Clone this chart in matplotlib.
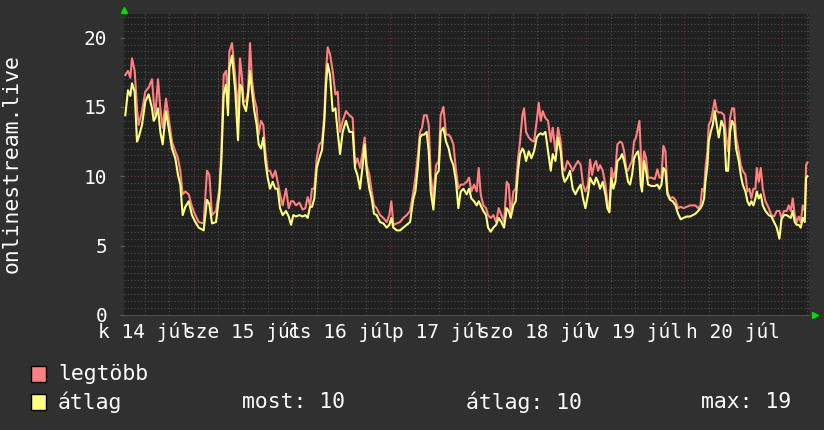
import numpy as np
import matplotlib.pyplot as plt
from matplotlib.patches import Rectangle
from matplotlib.ticker import MultipleLocator

plt.rcParams['font.family'] = ['DejaVu Sans Mono', 'DejaVu Sans']

# sample times, hours since 14 Jul 00:00
hours = [
    7.18, 7.84, 8.41, 8.82, 9.47, 10.04, 10.45, 11.27, 12.08, 12.90,
    13.72, 14.12, 14.53, 15.19, 15.76, 16.33, 17.14, 17.80, 18.61, 19.43,
    20.08, 20.65, 21.23, 21.88, 22.70, 23.51, 24.33, 25.15, 26.37, 27.19,
    27.76, 28.41, 29.39, 30.21, 30.70, 31.27, 31.84, 32.33, 32.66, 33.31,
    34.12,
    34.78, 35.27, 35.76, 36.09, 36.74, 37.23, 37.72, 38.21, 38.78, 39.35,
    39.84, 40.41, 40.98, 41.47, 42.05, 42.62, 43.27, 43.92, 44.49, 45.07,
    45.72, 46.53, 47.19, 47.76, 48.33, 48.98, 49.80, 50.62, 51.27, 51.84,
    52.41, 52.90, 53.47, 54.05, 54.70, 55.35, 55.92, 56.33, 56.74, 57.31,
    57.96, 58.62, 59.19, 59.76, 60.41, 61.23, 62.05,
    62.86, 63.43, 64.01, 64.66, 65.31, 65.80, 66.29, 66.94, 67.52, 68.09,
    68.74, 69.56, 70.37, 71.19, 71.84, 72.33, 72.82, 73.64, 74.45, 75.27,
    76.09, 76.90, 77.72, 78.21, 78.86, 79.35, 79.84, 80.33, 80.98, 81.48,
    81.97, 82.62, 83.27, 83.93, 84.41, 85.07, 85.72, 86.37, 86.86, 87.52,
    88.17, 88.74, 89.31, 89.97,
    90.78, 91.35, 91.93, 92.58, 93.23, 93.72, 94.21, 94.86, 95.52, 96.01,
    96.66, 97.31, 97.97, 98.62, 99.27, 99.93, 100.58, 101.07, 101.56, 102.21,
    102.78, 103.35, 103.84, 104.42, 104.82, 105.31, 105.97, 106.62, 107.27, 107.93,
    108.42, 108.91, 109.40, 110.05, 110.70, 111.36, 111.84, 112.50, 113.15, 113.80,
    114.29, 114.78, 115.44, 116.09, 116.74, 117.40, 118.05,
    118.70, 119.27, 119.85, 120.50, 120.99, 121.48, 121.97, 122.46, 122.95, 123.44,
    124.09, 124.74, 125.23, 125.72, 126.21, 126.70, 127.19, 127.68, 128.34, 128.83,
    129.32, 129.81, 130.30, 130.78, 131.27, 131.76, 132.25, 132.74, 133.07, 133.40,
    133.72, 134.21, 134.70, 135.19, 136.01, 136.83, 137.48, 137.97, 138.46, 138.95,
    139.44, 139.93, 140.58, 141.23, 141.89, 142.54, 143.19, 143.85, 144.66, 145.48,
    146.79, 147.44, 148.01, 148.42, 148.91, 149.24, 149.73, 150.05, 150.54, 151.03,
    151.52, 152.01, 152.50, 153.15, 153.81, 154.30, 154.79, 155.28, 155.77, 156.26,
    156.75, 157.40, 157.89, 158.38, 159.03, 159.52, 160.01, 160.50, 160.99, 161.48,
    161.81, 162.30, 162.79, 163.28, 163.93, 164.75, 165.40, 166.05, 166.70, 167.36,
    167.85, 168.50, 169.15, 169.64, 170.13, 170.62, 171.11, 171.60, 172.09, 172.58,
    173.07, 173.56, 173.89, 174.22,
]

# legtöbb (max)
legtobb = [
    17.3, 17.6, 17.1, 18.5, 17.6, 14.9, 13.7, 14.7, 16.1, 16.4,
    17.0, 15.4, 14.4, 17.0, 14.9, 13.5, 15.6, 14.2, 12.5, 11.8,
    11.3, 10.4, 8.7, 8.9, 8.7, 7.8, 7.2, 6.7, 6.6, 10.4,
    10.1, 7.2, 7.5, 9.1, 11.8, 17.3, 17.6, 15.6, 19.0, 19.6,
    17.1,
    14.5, 18.5, 17.1, 15.4, 15.4, 16.1, 19.6, 16.9, 15.6, 14.9,
    13.0, 14.0, 13.7, 11.8, 10.4, 10.4, 9.9, 10.4, 9.6, 8.7,
    7.9, 9.1, 7.7, 8.2, 8.2, 7.9, 8.1, 7.6, 7.7, 8.5,
    7.9, 9.1, 9.1, 11.3, 12.3, 12.5, 14.4, 17.6, 19.3, 18.8,
    17.6, 15.9, 16.1, 13.2, 14.0, 14.7, 14.4,
    14.2, 10.8, 11.3, 10.6, 11.8, 12.8, 10.8, 10.1, 8.9, 7.9,
    7.7, 7.2, 7.0, 6.7, 7.2, 8.2, 6.5, 6.6, 6.7, 7.0,
    7.2, 7.5, 8.9, 9.9, 11.6, 13.2, 13.5, 14.4, 14.4, 13.7,
    10.1, 8.4, 10.8, 11.1, 14.4, 15.0, 13.0, 13.0, 12.8, 12.3,
    10.4, 9.1, 9.4, 9.4,
    9.6, 9.9, 8.9, 9.4, 8.9, 10.6, 8.7, 7.9, 7.7, 7.2,
    7.0, 7.2, 6.7, 7.7, 7.2, 6.7, 9.6, 9.4, 7.2, 8.9,
    9.1, 11.3, 12.5, 14.4, 14.9, 13.2, 12.8, 12.6, 12.5, 14.0,
    15.3, 14.0, 14.7, 14.2, 14.0, 12.5, 13.5, 11.8, 13.5, 12.5,
    10.6, 10.4, 11.1, 10.8, 10.4, 10.8, 11.1,
    10.8, 9.4, 8.9, 9.4, 11.2, 10.1, 10.8, 11.1, 10.4, 10.8,
    10.4, 9.4, 8.2, 7.5, 10.6, 9.9, 10.4, 12.3, 12.5, 12.4,
    11.8, 10.6, 10.4, 10.8, 11.1, 12.5, 12.8, 13.5, 14.0, 11.8,
    9.4, 11.8, 11.3, 9.9, 9.9, 9.8, 10.5, 9.9, 9.9, 12.2,
    11.8, 8.9, 8.4, 8.5, 8.3, 7.7, 7.8, 7.7, 7.8, 7.9,
    7.9, 7.7, 7.9, 9.1, 8.9, 10.6, 11.8, 13.7, 14.0, 14.7,
    15.5, 14.7, 14.6, 14.6, 14.4, 12.8, 11.8, 14.2, 14.9, 14.9,
    12.8, 11.8, 10.8, 10.4, 10.1, 8.9, 9.1, 8.4, 9.1, 9.1,
    10.6, 9.6, 10.6, 9.1, 8.2, 7.7, 7.2, 7.1, 7.5, 7.5,
    7.0, 7.5, 7.5, 7.9, 7.5, 8.4, 7.2, 6.7, 7.1, 6.7,
    7.9, 7.5, 10.8, 11.0,
]

# átlag (average)
atlag = [
    14.4, 16.2, 15.8, 16.7, 16.1, 12.5, 12.8, 13.7, 15.4, 15.9,
    14.9, 14.0, 14.2, 14.9, 13.2, 12.3, 14.7, 13.5, 12.0, 11.3,
    10.1, 9.4, 7.2, 7.8, 8.2, 7.2, 6.7, 6.3, 6.1, 8.3,
    8.0, 6.6, 6.7, 8.7, 11.1, 15.9, 16.6, 14.4, 17.8, 18.7,
    16.1,
    12.6, 16.6, 16.4, 15.2, 14.7, 15.8, 17.6, 16.1, 14.7, 13.7,
    12.3, 12.0, 12.8, 11.1, 9.9, 9.1, 9.6, 9.1, 9.1, 7.7,
    7.2, 7.5, 7.1, 6.5, 7.2, 7.1, 7.2, 7.1, 7.2, 7.0,
    7.8, 7.8, 8.4, 10.6, 11.3, 11.9, 14.0, 16.6, 18.1, 17.3,
    14.7, 14.9, 13.2, 11.6, 13.2, 14.0, 13.2,
    13.2, 10.6, 10.1, 9.1, 10.8, 12.3, 10.4, 9.1, 8.4, 7.3,
    7.2, 6.7, 6.6, 6.3, 6.5, 7.0, 6.3, 6.1, 6.1, 6.3,
    6.5, 6.7, 8.4, 8.9, 10.8, 12.8, 13.0, 13.0, 13.2, 11.8,
    8.9, 7.6, 10.1, 10.4, 13.2, 13.5, 12.5, 12.0, 11.3, 10.8,
    9.6, 7.7, 8.9, 9.1,
    8.7, 9.1, 8.4, 8.2, 7.9, 8.2, 7.9, 7.5, 7.2, 6.3,
    6.0, 6.3, 6.5, 7.0, 6.7, 6.3, 7.7, 7.5, 7.0, 7.9,
    8.2, 10.4, 11.6, 12.0, 11.8, 11.1, 11.8, 11.3, 11.8, 12.8,
    13.0, 13.1, 13.0, 13.2, 11.8, 10.4, 11.6, 11.1, 12.8, 11.8,
    10.1, 9.6, 9.9, 10.4, 9.1, 8.7, 9.1,
    9.4, 8.4, 7.7, 8.7, 9.9, 9.6, 9.4, 9.9, 9.6, 9.1,
    9.6, 8.7, 7.7, 7.4, 9.9, 9.1, 9.6, 11.1, 11.3, 11.6,
    11.1, 10.4, 9.6, 9.4, 10.1, 11.3, 11.6, 11.8, 11.1, 9.4,
    8.9, 11.1, 10.4, 9.4, 9.3, 9.3, 9.4, 9.1, 9.4, 10.6,
    10.4, 8.7, 8.3, 8.2, 7.9, 7.3, 6.9, 7.0, 7.1, 7.1,
    7.3, 7.5, 7.7, 7.9, 8.4, 9.6, 10.8, 12.5, 13.2, 13.7,
    14.7, 13.7, 12.8, 14.0, 13.5, 10.4, 10.4, 13.2, 14.0, 13.7,
    12.0, 11.1, 10.1, 9.4, 8.9, 8.2, 7.9, 8.2, 7.9, 8.4,
    8.9, 8.4, 8.7, 7.9, 7.5, 7.2, 7.1, 6.7, 6.3, 5.5,
    6.9, 7.2, 7.2, 7.1, 7.0, 7.5, 6.7, 6.5, 6.5, 6.3,
    7.0, 6.7, 9.9, 10.0,
]

day_labels = ['k 14 júl', 'sze 15 júl', 'cs 16 júl', 'p 17 júl',
              'szo 18 júl', 'v 19 júl', 'h 20 júl']
stats = ['most: 10', 'átlag: 10', 'max: 19']

red = '#ff8080'
yellow = '#ffff80'
W, H = 824, 430
axis_fs = 14
legend_fs = 15.4

fig = plt.figure(figsize=(W / 100, H / 100), dpi=100, facecolor='#303030')
ax = fig.add_axes([124 / W, 115 / H, 685 / W, 301 / H], facecolor='#202020')

ax.plot(hours, legtobb, color=red, linewidth=1.5, zorder=3)
ax.plot(hours, atlag, color=yellow, linewidth=1.5, zorder=4)

ax.set_xlim(6.86, 174.6)
ax.set_ylim(0, 21.7)

# grid like rrdtool: minor every 6h / 0.5, major every day / 5
ax.xaxis.set_major_locator(MultipleLocator(24))
ax.xaxis.set_minor_locator(MultipleLocator(6))
ax.yaxis.set_major_locator(MultipleLocator(5))
ax.yaxis.set_minor_locator(MultipleLocator(0.5))
ax.grid(which='minor', color='#505050', linestyle=(0, (1, 2)), linewidth=0.8)
ax.grid(which='major', color='#773535', linestyle=(0, (1, 2)), linewidth=0.8)
ax.set_axisbelow(True)

ax.set_xticklabels([])
ax.tick_params(axis='x', which='both', length=0)
ax.tick_params(axis='y', which='major', length=3, color='#606060', pad=9,
               labelcolor='white', labelsize=axis_fs)
ax.tick_params(axis='y', which='minor', length=0)
for s in ax.spines.values():
    s.set_visible(False)
ax.spines['bottom'].set_visible(True)
ax.spines['bottom'].set_color('#505050')

for i, lab in enumerate(day_labels):
    ax.text(12 + 24 * i, -0.055, lab, transform=ax.get_xaxis_transform(),
            ha='center', va='center', color='white', fontsize=axis_fs)

# green arrows at the axis ends
ax.plot([0], [1.013], marker='^', color='#00dd00', markersize=4,
        transform=ax.transAxes, clip_on=False)
ax.plot([1.009], [0], marker='>', color='#00dd00', markersize=4,
        transform=ax.transAxes, clip_on=False)

fig.text(12 / W, 1 - 164 / H, 'onlinestream.live', rotation=90,
         ha='center', va='center', color='white', fontsize=legend_fs)

# legend
for col, lab, y in [(red, 'legtöbb', 374), (yellow, 'átlag', 402)]:
    fig.patches.append(Rectangle((31 / W, 1 - (y + 8) / H), 15 / W, 16 / H,
                                 facecolor=col, edgecolor='black', linewidth=1,
                                 transform=fig.transFigure))
    fig.text(58 / W, 1 - y / H, lab, ha='left', va='center',
             color='white', fontsize=legend_fs)

for x, s in zip([242, 466, 701], stats):
    fig.text(x / W, 1 - 402 / H, s, ha='left', va='center',
             color='white', fontsize=legend_fs)

plt.savefig('out.png', dpi=100, facecolor=fig.get_facecolor())
